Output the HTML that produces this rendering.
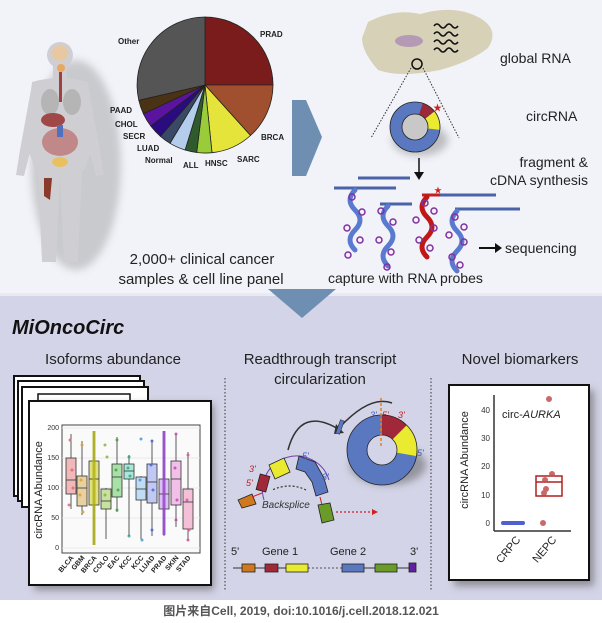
<!DOCTYPE html>
<html><head><meta charset="utf-8"><style>
html,body{margin:0;padding:0;background:#fff}
svg{display:block}
text{font-family:"Liberation Sans","Noto Sans CJK SC",sans-serif}
</style></head><body>
<svg width="602" height="623" viewBox="0 0 602 623" xmlns="http://www.w3.org/2000/svg">
<defs>
<filter id="sh" x="-30%" y="-30%" width="160%" height="160%"><feGaussianBlur stdDeviation="4"/></filter>
</defs>
<rect width="602" height="623" fill="#fff"/>
<rect x="0" y="0" width="602" height="295" fill="#f2f3f9"/>
<rect x="0" y="295" width="602" height="305" fill="#d3d4e7"/>
<rect x="0" y="293" width="602" height="3" fill="#e8e9f3"/>

<!-- body figure -->
<g>
<ellipse cx="76" cy="165" rx="45" ry="105" fill="#999" opacity="0.45" filter="url(#sh)"/>
<circle cx="60" cy="55" r="13" fill="#cfcfd3"/>
<rect x="53" y="64" width="14" height="16" fill="#cfcfd3"/>
<path d="M32 82 Q60 74 88 82 L92 150 L84 170 L36 170 L28 150 Z" fill="#cfcfd3"/>
<path d="M32 84 L20 150 L16 175 L24 176 L30 152 L38 100 Z" fill="#cfcfd3"/>
<path d="M88 84 L100 150 L104 175 L96 176 L90 152 L82 100 Z" fill="#cfcfd3"/>
<path d="M38 168 L42 262 L56 262 L60 178 L64 262 L78 262 L82 168 Z" fill="#cfcfd3"/>
<circle cx="60" cy="53" r="8" fill="#e8c8a0"/>
<circle cx="61" cy="68" r="4" fill="#e8a860"/>
<rect x="59" y="72" width="3" height="30" fill="#a04040"/>
<ellipse cx="50" cy="102" rx="9" ry="13" fill="#b5b5b5"/>
<ellipse cx="72" cy="102" rx="9" ry="13" fill="#b5b5b5"/>
<ellipse cx="53" cy="120" rx="12" ry="7" fill="#a04848"/>
<ellipse cx="60" cy="142" rx="18" ry="14" fill="#c08888"/>
<rect x="57" y="125" width="6" height="12" fill="#5070c0"/>
<ellipse cx="60" cy="162" rx="8" ry="5" fill="#e8c060"/>
<path d="M44 178 L52 178 L50 200 L44 196 Z" fill="#8a3a2a"/>
</g>

<!-- pie -->
<g stroke="#222" stroke-width="0.8">
<path d="M205 85 L205 17 A68 68 0 0 1 273 85 Z" fill="#7a1c1c"/>
<path d="M205 85 L273 85 A68 68 0 0 1 250.5 135.5 Z" fill="#a0502e"/>
<path d="M205 85 L250.5 135.5 A68 68 0 0 1 212 152.7 Z" fill="#e4e43a"/>
<path d="M205 85 L212 152.7 A68 68 0 0 1 196.7 152.5 Z" fill="#9acc3a"/>
<path d="M205 85 L196.7 152.5 A68 68 0 0 1 185.1 150 Z" fill="#2e5a2e"/>
<path d="M205 85 L185.1 150 A68 68 0 0 1 170 143.3 Z" fill="#b4cdec"/>
<path d="M205 85 L170 143.3 A68 68 0 0 1 160.4 136.3 Z" fill="#3a4a66"/>
<path d="M205 85 L160.4 136.3 A68 68 0 0 1 150.7 125.9 Z" fill="#2a0c80"/>
<path d="M205 85 L150.7 125.9 A68 68 0 0 1 143.4 113.8 Z" fill="#5a14a0"/>
<path d="M205 85 L143.4 113.8 A68 68 0 0 1 138.8 100.3 Z" fill="#4a3214"/>
<path d="M205 85 L138.8 100.3 A68 68 0 0 1 205 17 Z" fill="#555"/>
</g>
<g font-size="8" font-weight="bold" fill="#222">
<text x="118" y="44">Other</text>
<text x="260" y="37">PRAD</text>
<text x="261" y="140">BRCA</text>
<text x="237" y="162">SARC</text>
<text x="205" y="166">HNSC</text>
<text x="183" y="168">ALL</text>
<text x="145" y="163">Normal</text>
<text x="137" y="151">LUAD</text>
<text x="123" y="139">SECR</text>
<text x="115" y="127">CHOL</text>
<text x="110" y="113">PAAD</text>
</g>
<g font-size="15" fill="#222" text-anchor="middle">
<text x="202" y="264">2,000+ clinical cancer</text>
<text x="201" y="284">samples &amp; cell line panel</text>
</g>

<!-- arrows -->
<polygon points="292,100 306,100 322,137 306,176 292,176" fill="#6e8fb2"/>
<polygon points="268,289 336,289 302,318" fill="#6e8fb2"/>

<!-- cell -->
<path d="M368 22 Q395 8 420 14 Q455 4 480 18 Q500 30 488 48 Q470 62 440 70 Q400 78 378 70 Q362 52 362 38 Z" fill="#d7d2b7"/>
<ellipse cx="409" cy="41" rx="14" ry="6" fill="#b59ab5"/>
<g fill="none" stroke="#111" stroke-width="1.6">
<path d="M434 26 q3 -4 6 0 t6 0 t6 0 t6 0"/>
<path d="M434 34 q3 -4 6 0 t6 0 t6 0 t6 0"/>
<path d="M434 42 q3 -4 6 0 t6 0 t6 0 t6 0"/>
<path d="M434 50 q3 -4 6 0 t6 0 t6 0 t6 0"/>
</g>
<circle cx="417" cy="64" r="5" fill="none" stroke="#111" stroke-width="1.5"/>
<line x1="411" y1="68" x2="371" y2="138" stroke="#333" stroke-dasharray="1.5,1.5"/>
<line x1="423" y1="68" x2="459" y2="138" stroke="#333" stroke-dasharray="1.5,1.5"/>
<ellipse cx="420" cy="140" rx="28" ry="16" fill="#888" opacity="0.5" filter="url(#sh)"/>
<circle cx="415" cy="127" r="19" fill="none" stroke="#5a78c0" stroke-width="12"/>
<circle cx="415" cy="127" r="19" fill="none" stroke="#9a2a3a" stroke-width="12" stroke-dasharray="0 6 11 200" transform="rotate(-90 415 127)"/>
<circle cx="415" cy="127" r="19" fill="none" stroke="#eaea30" stroke-width="12" stroke-dasharray="0 17 15 200" transform="rotate(-90 415 127)"/>
<circle cx="415" cy="127" r="25" fill="none" stroke="#222" stroke-width="0.8"/>
<circle cx="415" cy="127" r="13" fill="#c8c8c8" stroke="#222" stroke-width="0.8"/>
<text x="433" y="111" font-size="9" fill="#d02020">★</text>
<line x1="419" y1="158" x2="419" y2="176" stroke="#111" stroke-width="1.5"/>
<polygon points="414,172 424,172 419,180" fill="#111"/>
<g font-size="14" fill="#222">
<text x="500" y="63">global RNA</text>
<text x="526" y="121">circRNA</text>
<text x="588" y="167" text-anchor="end">fragment &amp;</text>
<text x="588" y="185" text-anchor="end">cDNA synthesis</text>
<text x="505" y="253">sequencing</text>
<text x="328" y="283">capture with RNA probes</text>
</g>
<polygon points="479,247 495,247 495,243 502,248 495,253 495,249 479,249" fill="#111"/>
<g stroke="#4a62a8" stroke-width="3">
<line x1="358" y1="178" x2="410" y2="178"/>
<line x1="334" y1="188" x2="396" y2="188"/>
<line x1="380" y1="204" x2="412" y2="204"/>
<line x1="440" y1="195" x2="496" y2="195"/>
<line x1="455" y1="209" x2="520" y2="209"/>
</g>
<line x1="422" y1="195" x2="440" y2="195" stroke="#c02020" stroke-width="3"/>
<text x="434" y="193" font-size="8" fill="#d02020">★</text>
<g fill="none" stroke-width="5" stroke-linecap="round">
<path d="M355 190 q-10 10 0 20 t0 20 t0 20" stroke="#5a7ad0"/>
<path d="M388 206 q-10 10 0 20 t0 20 t0 20" stroke="#5a7ad0"/>
<path d="M427 197 q-10 10 0 20 t0 20 t0 20" stroke="#c01818"/>
<path d="M457 211 q-10 10 0 20 t0 20 t0 20" stroke="#5a7ad0"/>
</g>
<g fill="none" stroke="#8030a0" stroke-width="1.5">
<circle cx="352" cy="197" r="3"/><circle cx="362" cy="212" r="3"/><circle cx="347" cy="228" r="3"/><circle cx="360" cy="240" r="3"/><circle cx="348" cy="255" r="3"/>
<circle cx="381" cy="211" r="3"/><circle cx="393" cy="222" r="3"/><circle cx="379" cy="240" r="3"/><circle cx="391" cy="252" r="3"/><circle cx="387" cy="267" r="3"/>
<circle cx="425" cy="203" r="3"/><circle cx="434" cy="211" r="3"/><circle cx="416" cy="220" r="3"/><circle cx="434" cy="228" r="3"/><circle cx="419" cy="240" r="3"/><circle cx="430" cy="248" r="3"/>
<circle cx="455" cy="217" r="3"/><circle cx="464" cy="227" r="3"/><circle cx="449" cy="235" r="3"/><circle cx="464" cy="242" r="3"/><circle cx="452" cy="257" r="3"/><circle cx="460" cy="265" r="3"/>
</g>

<!-- bottom section -->
<text x="12" y="334" font-size="20" font-weight="bold" font-style="italic" fill="#111">MiOncoCirc</text>
<g font-size="15" fill="#222" text-anchor="middle">
<text x="113" y="364">Isoforms abundance</text>
<text x="320" y="364">Readthrough transcript</text>
<text x="320" y="384">circularization</text>
<text x="520" y="364">Novel biomarkers</text>
</g>
<line x1="225" y1="378" x2="225" y2="590" stroke="#333" stroke-dasharray="1.5,2" stroke-width="1"/>
<line x1="431" y1="378" x2="431" y2="590" stroke="#333" stroke-dasharray="1.5,2" stroke-width="1"/>

<!-- card stack -->
<rect x="14" y="376" width="126" height="120" fill="#fff" stroke="#111" stroke-width="2"/>
<rect x="18" y="381" width="126" height="120" fill="#fff" stroke="#111" stroke-width="2"/>
<rect x="22" y="387" width="126" height="120" fill="#fff" stroke="#111" stroke-width="2"/>
<rect x="38" y="394" width="92" height="10" fill="#fff" stroke="#111" stroke-width="1.5"/>
<rect x="34" y="404" width="180" height="186" fill="#555" opacity="0.55" filter="url(#sh)"/>
<rect x="29" y="401" width="182" height="184" fill="#fff" stroke="#111" stroke-width="2"/>
<rect x="62" y="425" width="138" height="128" fill="#fafafa" stroke="#444" stroke-width="1"/>
<g stroke="#e4e4e4" stroke-width="0.7">
<line x1="62" y1="548" x2="200" y2="548"/><line x1="62" y1="518" x2="200" y2="518"/><line x1="62" y1="488" x2="200" y2="488"/><line x1="62" y1="458" x2="200" y2="458"/><line x1="62" y1="428" x2="200" y2="428"/>
</g>
<g font-size="7" fill="#333" text-anchor="end">
<text x="59" y="430">200</text><text x="59" y="460">150</text><text x="59" y="490">100</text><text x="59" y="520">50</text><text x="59" y="550">0</text>
</g>
<text transform="translate(42 490) rotate(-90)" font-size="11" fill="#222" text-anchor="middle">circRNA Abundance</text>
<g stroke="#333" stroke-width="0.8">
<line x1="71" y1="509" x2="71" y2="434"/><rect x="66" y="458" width="10" height="36" fill="#f0b8b8"/><line x1="66" y1="480" x2="76" y2="480"/>
<line x1="82" y1="515" x2="82" y2="441"/><rect x="77" y="476" width="10" height="30" fill="#e8d0a0"/><line x1="77" y1="488" x2="87" y2="488"/>
<line x1="94" y1="545" x2="94" y2="431"/><rect x="89" y="461" width="10" height="44" fill="#e0e080"/><line x1="89" y1="479" x2="99" y2="479"/>
<line x1="106" y1="539" x2="106" y2="488"/><rect x="101" y="489" width="10" height="20" fill="#c8e0a0"/><line x1="101" y1="501" x2="111" y2="501"/>
<line x1="117" y1="512" x2="117" y2="437"/><rect x="112" y="464" width="10" height="33" fill="#a8e0a8"/><line x1="112" y1="477" x2="122" y2="477"/>
<line x1="129" y1="536" x2="129" y2="455"/><rect x="124" y="464" width="10" height="15" fill="#a8e8d8"/><line x1="124" y1="471" x2="134" y2="471"/>
<line x1="141" y1="539" x2="141" y2="476"/><rect x="136" y="477" width="10" height="23" fill="#c0dcf4"/><line x1="136" y1="489" x2="146" y2="489"/>
<line x1="152" y1="536" x2="152" y2="440"/><rect x="147" y="464" width="10" height="39" fill="#c0c8f4"/><line x1="147" y1="482" x2="157" y2="482"/>
<line x1="164" y1="536" x2="164" y2="431"/><rect x="159" y="479" width="10" height="30" fill="#dcc0f0"/><line x1="159" y1="494" x2="169" y2="494"/>
<line x1="176" y1="527" x2="176" y2="434"/><rect x="171" y="461" width="10" height="44" fill="#f0c0e8"/><line x1="171" y1="479" x2="181" y2="479"/>
<line x1="188" y1="541" x2="188" y2="452"/><rect x="183" y="489" width="10" height="40" fill="#f4c0d8"/><line x1="183" y1="502" x2="193" y2="502"/>
</g>
<g opacity="0.8">
<g fill="#e06070"><circle cx="70" cy="440" r="1.5"/><circle cx="72" cy="470" r="1.5"/><circle cx="69" cy="505" r="1.5"/><circle cx="73" cy="488" r="1.5"/></g>
<g fill="#d8a030"><circle cx="82" cy="445" r="1.5"/><circle cx="81" cy="480" r="1.5"/><circle cx="83" cy="512" r="1.5"/><circle cx="80" cy="495" r="1.5"/></g>
<g fill="#b0b010"><rect x="92.5" y="431" width="3" height="114"/></g>
<g fill="#80b040"><circle cx="105" cy="445" r="1.5"/><circle cx="107" cy="457" r="1.5"/><circle cx="105" cy="495" r="1.5"/></g>
<g fill="#40a040"><circle cx="117" cy="440" r="1.5"/><circle cx="116" cy="470" r="1.5"/><circle cx="118" cy="490" r="1.5"/><circle cx="117" cy="510" r="1.5"/></g>
<g fill="#30a080"><circle cx="129" cy="457" r="1.5"/><circle cx="128" cy="468" r="1.5"/><circle cx="130" cy="476" r="1.5"/><circle cx="129" cy="536" r="1.5"/></g>
<g fill="#4090e0"><circle cx="141" cy="439" r="1.5"/><circle cx="140" cy="480" r="1.5"/><circle cx="142" cy="540" r="1.5"/></g>
<g fill="#4060e0"><circle cx="152" cy="441" r="1.5"/><circle cx="151" cy="465" r="1.5"/><circle cx="153" cy="490" r="1.5"/><circle cx="152" cy="530" r="1.5"/></g>
<g fill="#9040d0"><rect x="162.5" y="431" width="3" height="104"/></g>
<g fill="#c040b0"><circle cx="176" cy="434" r="1.5"/><circle cx="175" cy="468" r="1.5"/><circle cx="177" cy="500" r="1.5"/><circle cx="176" cy="520" r="1.5"/></g>
<g fill="#e05090"><circle cx="188" cy="455" r="1.5"/><circle cx="187" cy="500" r="1.5"/><circle cx="189" cy="530" r="1.5"/><circle cx="188" cy="540" r="1.5"/></g>
</g>
<g font-size="7" font-weight="bold" fill="#222" text-anchor="end">
<text transform="translate(74 558) rotate(-50)">BLCA</text>
<text transform="translate(85 558) rotate(-50)">GBM</text>
<text transform="translate(97 558) rotate(-50)">BRCA</text>
<text transform="translate(109 558) rotate(-50)">COLO</text>
<text transform="translate(120 558) rotate(-50)">EAC</text>
<text transform="translate(132 558) rotate(-50)">KCC</text>
<text transform="translate(144 558) rotate(-50)">KCC</text>
<text transform="translate(155 558) rotate(-50)">LUAD</text>
<text transform="translate(167 558) rotate(-50)">PRAD</text>
<text transform="translate(179 558) rotate(-50)">SKIN</text>
<text transform="translate(191 558) rotate(-50)">STAD</text>
</g>

<!-- readthrough -->
<path d="M288 450 Q300 405 340 430" fill="none" stroke="#333" stroke-width="1.5"/>
<polygon points="336,424 344,433 334,434" fill="#333"/>
<path d="M340 427 Q370 395 392 403" fill="none" stroke="#333" stroke-width="1.5"/>
<path d="M264 500 A34 34 0 0 1 329 480" fill="none" stroke="#7040b0" stroke-width="1"/>
<path d="M269 465 L284 458 L290 472 L275 479 Z" fill="#eaea30" stroke="#222" stroke-width="0.8"/>
<path d="M299 456 L315 462 L324 478 L328 492 L316 496 L312 482 L305 472 L296 469 Z" fill="#5a78c0" stroke="#222" stroke-width="0.8"/>
<rect x="258" y="475" width="10" height="16" fill="#a02838" stroke="#222" stroke-width="0.8" transform="rotate(15 263 483)"/>
<path d="M238 500 L252 494 L256 504 L242 508 Z" fill="#d07820" stroke="#222" stroke-width="0.8"/>
<path d="M252 497 L262 493" stroke="#d02020" stroke-width="1"/>
<path d="M320 497 L322 505" stroke="#d02020" stroke-width="1"/>
<path d="M318 505 L330 503 L334 520 L322 523 Z" fill="#6a9a28" stroke="#222" stroke-width="0.8"/>
<line x1="336" y1="512" x2="375" y2="512" stroke="#d02020" stroke-width="1.2" stroke-dasharray="2,2"/>
<polygon points="372,509 378,512 372,515" fill="#d02020"/>
<path d="M306 490 Q290 482 272 490" fill="none" stroke="#333" stroke-width="1.2" stroke-dasharray="2,2"/>
<text x="262" y="508" font-size="10" font-style="italic" fill="#333">Backsplice</text>
<g font-size="9" font-style="italic">
<text x="249" y="472" fill="#c02020">3'</text><text x="246" y="486" fill="#c02020">5'</text>
<text x="302" y="459" fill="#4060c0">5'</text><text x="322" y="480" fill="#4060c0">3'</text>
<text x="370" y="418" fill="#4060c0">3'</text><text x="382" y="418" fill="#c02020">5'</text><text x="398" y="418" fill="#c02020">3'</text>
<text x="417" y="456" fill="#4060c0">5'</text>
</g>
<ellipse cx="388" cy="465" rx="38" ry="20" fill="#555" opacity="0.5" filter="url(#sh)"/>
<circle cx="382" cy="450" r="25" fill="none" stroke="#5a78c0" stroke-width="20"/>
<circle cx="382" cy="450" r="25" fill="none" stroke="#a02838" stroke-width="20" stroke-dasharray="19.6 200" transform="rotate(-90 382 450)"/>
<circle cx="382" cy="450" r="25" fill="none" stroke="#eaea30" stroke-width="20" stroke-dasharray="0 19.6 24 200" transform="rotate(-90 382 450)"/>
<circle cx="382" cy="450" r="35" fill="none" stroke="#222" stroke-width="0.8"/>
<circle cx="382" cy="450" r="15" fill="#d3d4e7" stroke="#222" stroke-width="0.8"/>
<line x1="381" y1="398" x2="381" y2="448" stroke="#e08020" stroke-width="1.5" stroke-dasharray="3,2"/>
<rect x="338" y="420" width="4" height="14" fill="#5a78c0" stroke="#222" stroke-width="0.5" transform="rotate(20 340 427)"/>
<g font-size="11" fill="#222">
<text x="231" y="555">5'</text><text x="262" y="555">Gene 1</text><text x="330" y="555">Gene 2</text><text x="410" y="555">3'</text>
</g>
<line x1="233" y1="568" x2="308" y2="568" stroke="#333"/>
<line x1="308" y1="568" x2="342" y2="568" stroke="#555" stroke-dasharray="2,2"/>
<line x1="342" y1="568" x2="414" y2="568" stroke="#333"/>
<g stroke="#222" stroke-width="0.8">
<rect x="242" y="564" width="13" height="8" fill="#d07820"/>
<rect x="265" y="564" width="13" height="8" fill="#a02838"/>
<rect x="286" y="564" width="22" height="8" fill="#eaea30"/>
<rect x="342" y="564" width="22" height="8" fill="#5a78c0"/>
<rect x="375" y="564" width="22" height="8" fill="#6a9a28"/>
<rect x="409" y="563" width="7" height="9" fill="#6020a0"/>
</g>

<!-- biomarker card -->
<rect x="454" y="390" width="140" height="196" fill="#555" opacity="0.55" filter="url(#sh)"/>
<rect x="449" y="385" width="140" height="195" fill="#fff" stroke="#111" stroke-width="2"/>
<line x1="494" y1="395" x2="494" y2="531" stroke="#333" stroke-width="1.5"/>
<line x1="494" y1="531" x2="571" y2="531" stroke="#333" stroke-width="1.5"/>
<g font-size="8" fill="#333" text-anchor="end">
<text x="490" y="526">0</text><text x="490" y="498">10</text><text x="490" y="469">20</text><text x="490" y="441">30</text><text x="490" y="413">40</text>
</g>
<text transform="translate(468 460) rotate(-90)" font-size="11" fill="#222" text-anchor="middle">circRNA Abundance</text>
<text x="502" y="418" font-size="11" fill="#222">circ-<tspan font-style="italic">AURKA</tspan></text>
<rect x="501" y="521" width="24" height="4" rx="2" fill="#5060d0"/>
<rect x="536" y="476" width="26" height="20" fill="none" stroke="#b02020" stroke-width="1.5"/>
<line x1="536" y1="482" x2="562" y2="482" stroke="#b02020" stroke-width="1.5"/>
<g fill="#c05050" opacity="0.85">
<circle cx="549" cy="399" r="3"/><circle cx="552" cy="474" r="3"/><circle cx="545" cy="480" r="3"/><circle cx="546" cy="489" r="3"/><circle cx="544" cy="493" r="3"/><circle cx="543" cy="523" r="3"/>
</g>
<g font-size="11" fill="#222" text-anchor="end">
<text transform="translate(521 540) rotate(-50)">CRPC</text>
<text transform="translate(557 540) rotate(-50)">NEPC</text>
</g>

<!-- footer -->
<text x="301" y="615" font-size="12" font-weight="bold" fill="#555" text-anchor="middle">图片来自Cell, 2019, doi:10.1016/j.cell.2018.12.021</text>
</svg>
</body></html>
